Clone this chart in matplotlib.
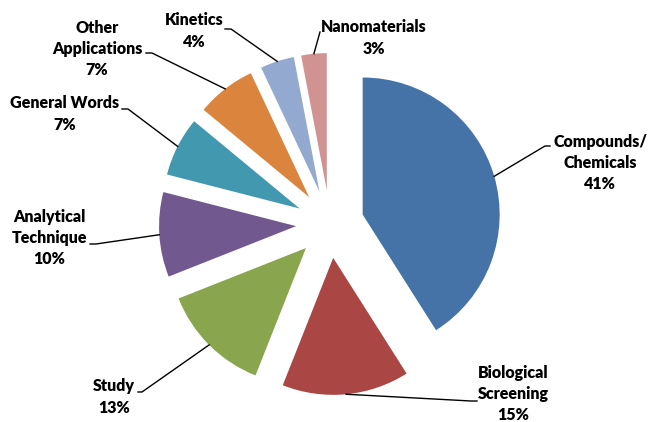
import numpy as np
import matplotlib.pyplot as plt


# ============================================================
# DATOS
# ============================================================

CATEGORIES = [
    "Compounds/\nChemicals",
    "Biological\nScreening",
    "Study",
    "Analytical\nTechnique",
    "General Words",
    "Other\nApplications",
    "Kinetics",
    "Nanomaterials",
]
PERCENTS = [41, 15, 13, 10, 7, 7, 4, 3]

COLORS = ["#4572A7", "#AA4643", "#89A54E", "#71588F",
          "#4198AF", "#DB843D", "#93A9CF", "#D19392"]

# Posiciones de etiquetas (pixeles, y hacia abajo) y codo de la linea guia
LABEL_POS = [(600, 163), (513, 394), (114, 397), (49, 238),
             (65, 114), (97, 49), (194, 31), (374, 38)]
ELBOW_POS = [[(550, 146), (545, 146)],
             [(477, 401), (471, 401)],
             [(138, 392), (142, 392)],
             [(90, 244), (96, 244)],
             [(122, 109), (128, 109)],
             [(146, 53), (152, 53)],
             [(225, 29), (231, 29)],
             [(320, 32)]]

W, H = 649, 422


def px(x, y):
    """Convierte coordenadas de pixel (y hacia abajo) a coordenadas de datos."""
    return x, H - y


# ============================================================
# FIGURA
# ============================================================

fig = plt.figure(figsize=(W / 100, H / 100), dpi=100)
ax = fig.add_axes([0, 0, 1, 1])

radius = 137
wedges, _ = ax.pie(
    PERCENTS,
    colors=COLORS,
    startangle=90,
    counterclock=False,
    radius=radius,
    center=px(330, 224),
    explode=[34] * len(PERCENTS),
    wedgeprops=dict(linewidth=0),
)

ax.set_xlim(0, W)
ax.set_ylim(0, H)
ax.set_aspect("equal")
ax.axis("off")

for w, cat, pct, lpos, elbow in zip(wedges, CATEGORIES, PERCENTS, LABEL_POS, ELBOW_POS):
    mid = np.deg2rad((w.theta1 + w.theta2) / 2)
    cx, cy = w.center
    anchor = (cx + w.r * np.cos(mid), cy + w.r * np.sin(mid))
    pts = [px(*p) for p in elbow] + [anchor]
    ax.plot([p[0] for p in pts], [p[1] for p in pts], color="black", lw=1.0)
    ax.text(*px(*lpos), f"{cat}\n{pct}%", ha="center", va="center",
            fontsize=11.5, fontweight="heavy", family="Lato",
            linespacing=1.42, color="black")

fig.savefig("out.png", dpi=100)
